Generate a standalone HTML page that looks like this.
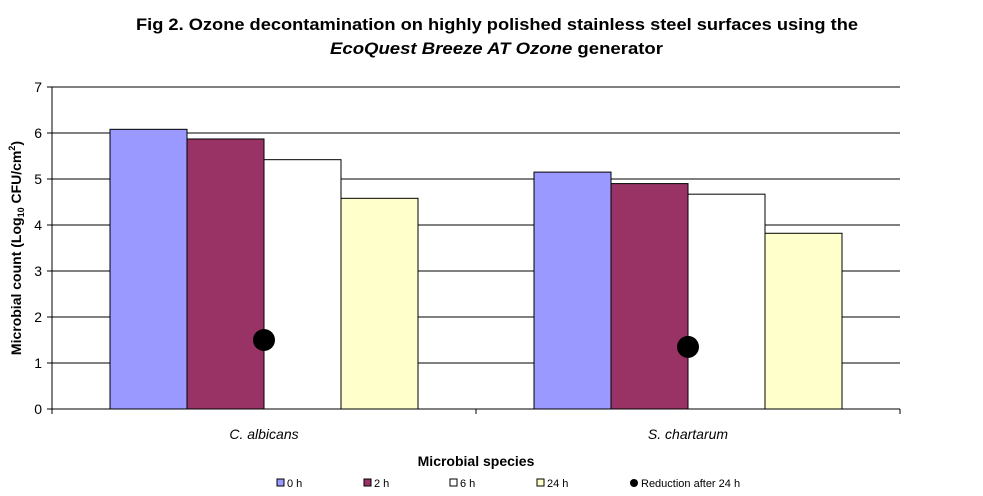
<!DOCTYPE html>
<html><head><meta charset="utf-8"><style>
body{margin:0;background:#fff;}
svg text{font-family:"Liberation Sans",Arial,sans-serif;}
</style></head><body>
<svg width="983" height="491" viewBox="0 0 983 491" xmlns="http://www.w3.org/2000/svg">
<g id="g"></g>
</svg>
<script>
const categories=["C. albicans","S. chartarum"];
const seriesNames=["0 h","2 h","6 h","24 h"];
const v0h=[6.08,5.15];
const v2h=[5.87,4.9];
const v6h=[5.42,4.67];
const v24h=[4.58,3.82];
const reduction=[1.5,1.35];
const yTicks=[0,1,2,3,4,5,6,7];
const colors=["#9999ff","#993366","#ffffff","#ffffcc"];
const X0=52,X1=900,Y0=409,YT=87,YMAX=7;
const y=v=>Y0-(v/YMAX)*(Y0-YT);
const catW=(X1-X0)/categories.length;
const barW=77;
const catC=i=>X0+catW*(i+0.5);
const NS="http://www.w3.org/2000/svg";
const g=document.getElementById('g');
function mk(t,a,txt){const e=document.createElementNS(NS,t);for(const k in a)e.setAttribute(k,a[k]);if(txt!=null)e.textContent=txt;g.appendChild(e);return e;}
// title
let t=mk('text',{x:136,y:30,'font-size':16.5,'font-weight':'bold',textLength:722,lengthAdjust:'spacingAndGlyphs'},'Fig 2. Ozone decontamination on highly polished stainless steel surfaces using the');

t=mk('text',{x:330,y:54,'font-size':16.5,'font-weight':'bold',textLength:333,lengthAdjust:'spacingAndGlyphs'});
t.innerHTML='<tspan font-style="italic">EcoQuest Breeze AT Ozone</tspan> generator';

// grid & y ticks
yTicks.forEach(v=>{
  const l=mk('line',{x1:47,x2:X1,y1:y(v),y2:y(v),stroke:'#000','stroke-width':1});
  
  const tx=mk('text',{x:42,y:y(v)+5,'text-anchor':'end','font-size':14},String(v));
  
});
let ax=mk('line',{x1:X0,x2:X0,y1:YT,y2:Y0,stroke:'#000'});

[0,1,2].forEach(i=>{const l=mk('line',{x1:X0+catW*i,x2:X0+catW*i,y1:Y0,y2:Y0+5,stroke:'#000'});
});
// bars
const series=[v0h,v2h,v6h,v24h];
categories.forEach((c,i)=>{
  series.forEach((s,j)=>{
    const x=catC(i)-2*barW+j*barW;
    const r=mk('rect',{x:x,y:y(s[i]),width:barW,height:Y0-y(s[i]),fill:colors[j],stroke:'#000','stroke-width':1});
    
    
  });
  const d=mk('circle',{cx:catC(i),cy:y(reduction[i]),r:11,fill:'#000'});
  
  const lb=mk('text',{x:catC(i),y:439,'text-anchor':'middle','font-size':14,'font-style':'italic'},c);
  
});
let xa=mk('line',{x1:X0,x2:X1,y1:Y0,y2:Y0,stroke:'#000'});

t=mk('text',{x:476,y:466,'text-anchor':'middle','font-size':14,'font-weight':'bold'},'Microbial species');

t=mk('text',{x:0,y:0,'text-anchor':'middle','font-size':14,'font-weight':'bold',transform:'translate(21,248) rotate(-90)'});
t.innerHTML='Microbial count (Log<tspan font-size="9" dy="3">10</tspan><tspan dy="-3"> CFU/cm</tspan><tspan font-size="9" dy="-6">2</tspan><tspan dy="6">)</tspan>';

// legend
const lx=[277,364,450,537];
seriesNames.forEach((n,j)=>{
  const r=mk('rect',{x:lx[j],y:479,width:7,height:7,fill:colors[j],stroke:'#000','stroke-width':1});
  
  const tx=mk('text',{x:lx[j]+10,y:487,'font-size':11},n);
  
});
let c=mk('circle',{cx:634,cy:483,r:4,fill:'#000'});

t=mk('text',{x:641,y:487,'font-size':11},'Reduction after 24 h');

</script>
</body></html>
